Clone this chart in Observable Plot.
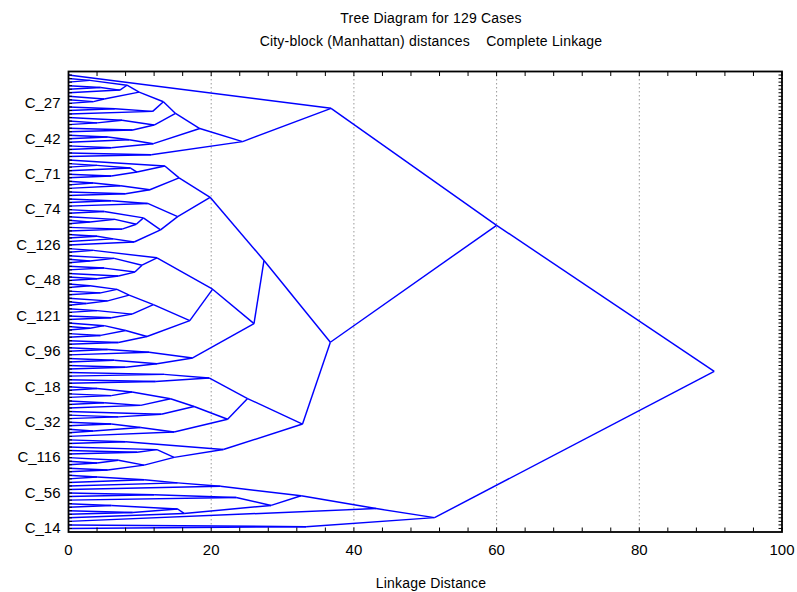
<!DOCTYPE html>
<html>
<head>
<meta charset="utf-8">
<script src="https://cdn.jsdelivr.net/npm/d3@7"></script>
<script src="https://cdn.jsdelivr.net/npm/@observablehq/plot@0.6"></script>
<style>
  html, body { margin: 0; padding: 0; background: #fff; }
  #wrap { position: relative; width: 797px; height: 592px; overflow: hidden; font-family: "Liberation Sans", Arial, sans-serif; }
  .t { position: absolute; left: 0; width: 862px; text-align: center; color: #000; white-space: pre; letter-spacing: 0.2px; }
</style>
</head>
<body>
<div id="wrap">
  <div id="chart"></div>
  <div class="t" style="top:10px;font-size:14px;">Tree Diagram for 129 Cases</div>
  <div class="t" style="top:33px;font-size:14px;">City-block (Manhattan) distances    Complete Linkage</div>
  <div class="t" style="top:575px;font-size:14px;">Linkage Distance</div>
</div>
<script>
// A leaf of the tree
const _ = null;
// Each internal node: [linkage distance, upper subtree, lower subtree]

// Cluster containing leaves 1–24
const clusterE1a = [15.0,
  [13.3,
    [9.9, [8.2, [3.0,_,_], [7.2,[4.5,_,_],_]], [5.0,_,[3.5,_,_]]],
    [11.8, [6.5,_,_], _]],
  [12.0, [7.5,_,[4.0,_,_]], [9.0,_,_]]];
const clusterE1b = [11.9, [8.5,[5.5,_,_],_], [6.0,_,_]];
const clusterC = [36.8, _, [24.4, [18.4, clusterE1a, clusterE1b], [11.6,_,_]]];

// Leaves 25–49
const clusterF1 = [15.5,
  [13.5, _, [9.6, [8.7,[4.0,_,_],_], [6.0,_,_]]],
  [11.4, [7.3,[3.5,_,_],_], [8.0,_,_]]];
const clusterF2 = [15.3,
  [11.1, [6.0,_,_], _],
  [12.9, [10.5, [5.0,_,_], [9.5,[6.5,_,[3.0,_,_]],[7.5,_,_]]], [9.2,[6.3,[4.0,_,_],_],_]]];
const clusterF = [19.85, clusterF1, clusterF2];

// Leaves 50–84
const clusterH1a = [12.4, [3.5,_,_], [10.3, [6.4,_,[3.0,_,_]], [9.3,[5.0,_,_],[7.0,_,[4.0,_,_]]]]];
const clusterH1b = [17.0,
  [11.9, [8.5,[6.8,[3.0,_,_],[4.5,_,_]],[5.5,_,[2.5,_,_]]], [8.9,[4.0,_,_],[6.0,_,_]]],
  [11.0, [8.0,[5.0,_,[3.0,_,_]],[4.5,_,_]], [7.0,_,_]]];
const clusterH2 = [17.4, [11.3,[5.5,_,_],_], [12.4,[6.4,_,_],[8.0,_,_]]];
const clusterG = [27.4, clusterF, [26.0, [20.2, clusterH1a, clusterH1b], clusterH2]];

// Leaves 85–113
const clusterI1 = [19.7, [13.4,_,_], [12.2,_,_]];
const clusterL = [22.3,
  [17.6, [14.3,[8.9,[4.0,_,_],[6.0,_,_]],[10.1,[5.0,_,_],_]], [13.0,_,[7.0,_,_]]],
  [14.8, [10.1,[6.0,_,_],[3.5,_,_]], _]];
const clusterJ = [21.7, [8.0,_,_], [14.8, [12.4,_,[9.6,_,_]], [10.6,[7.0,_,[4.0,_,_]],[5.5,_,_]]]];
const clusterD = [36.7, clusterG, [32.8, [25.1, clusterI1, clusterL], clusterJ]];

// Leaves 114–129
const clusterT = [21.3, [15.3, [10.6,[4.0,_,_],_], _], _];
const clusterB = [51.3,
  [43.1, [32.6, clusterT, [28.4, [23.5,[12.0,_,_],_], [16.2,[15.3,[6.0,_,_],[9.0,_,_]],_]]], _],
  [33.3,_,_]];

const tree = [90.5, [60.0, clusterC, clusterD], clusterB];

// Axis labels
const yTickLabels = ["C_27","C_42","C_71","C_74","C_126","C_48","C_121","C_96","C_18","C_32","C_116","C_56","C_14"];
const yTickLeaves = [9,19,29,39,49,59,69,79,89,99,109,119,129];
const xMajor = [0,20,40,60,80,100];
const xMinor = d3.range(0, 101, 4);
const xGrid = [20,40,60,80];

// Layout: leaves evenly spaced, each node midway between its two children
let leafCount = 0;
const links = [];
function place(node) {
  if (node === null) { leafCount += 1; return {h: 0, y: leafCount}; }
  const [h, a, b] = node;
  const ca = place(a), cb = place(b);
  const y = (ca.y + cb.y) / 2;
  links.push({x1: ca.h, y1: ca.y, x2: h, y2: y});
  links.push({x1: cb.h, y1: cb.y, x2: h, y2: y});
  return {h, y};
}
place(tree);
const allLeaves = d3.range(1, leafCount + 1);
const labelAt = new Map(yTickLeaves.map((d, i) => [d, yTickLabels[i]]));

const chart = Plot.plot({
  width: 797, height: 592,
  marginLeft: 68, marginRight: 15.5, marginTop: 71, marginBottom: 60.5,
  x: {domain: [0, 100]},
  y: {domain: [0, leafCount + 1], reverse: true},
  style: {fontFamily: "'Liberation Sans', Arial, sans-serif", fontSize: "15px", color: "#000", background: "#fff"},
  marks: [
    Plot.ruleX(xGrid, {stroke: "#999", strokeDasharray: "1.5,2.5", strokeWidth: 1}),
    Plot.link(links, {x1: "x1", y1: "y1", x2: "x2", y2: "y2", stroke: "#0000ff", strokeWidth: 1.45}),
    Plot.frame({stroke: "#000", strokeWidth: 1.8}),
    Plot.axisX(xMinor, {anchor: "bottom", tickSize: -4, tickFormat: () => "", label: null}),
    Plot.axisX(xMinor, {anchor: "top", tickSize: -4, tickFormat: () => "", label: null}),
    Plot.axisX(xMajor, {anchor: "bottom", tickSize: 0, tickPadding: 12, label: null}),
    Plot.axisY(allLeaves, {anchor: "left", tickSize: -4, tickFormat: () => "", label: null}),
    Plot.axisY(allLeaves, {anchor: "right", tickSize: -4, tickFormat: () => "", label: null}),
    Plot.axisY(yTickLeaves, {anchor: "left", tickSize: 0, tickPadding: 8, tickFormat: d => labelAt.get(d), label: null})
  ]
});
document.getElementById("chart").appendChild(chart);
</script>
</body>
</html>
